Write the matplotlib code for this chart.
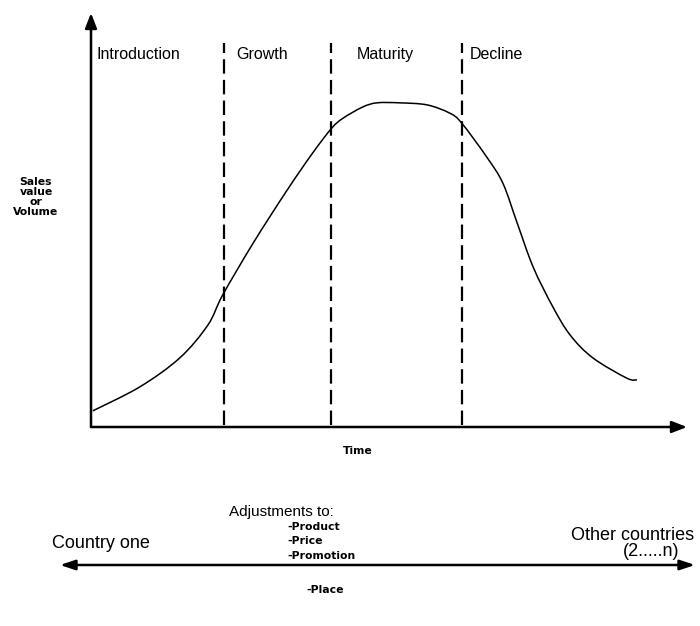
import matplotlib
matplotlib.use("Agg")
import matplotlib.pyplot as plt
from matplotlib.path import Path
from matplotlib.patches import PathPatch, FancyArrowPatch
import numpy as np

# ---- data ----
time = [0.3, 8.2, 14.9, 19.6, 22.1, 27.2, 32.9, 37.2, 40.4, 42.3, 45.6, 48.0,
        51.8, 56.4, 60.2, 62.2, 66.4, 69.1, 71.5, 74.2, 77.5, 80.4, 84.2, 89.9, 91.6]
sales = [3.9, 9.7, 16.7, 24.6, 31.9, 44.4, 57.2, 66.2, 72.2, 74.6, 77.3, 78.3,
         78.3, 77.8, 75.8, 73.4, 65.2, 58.9, 49.3, 38.6, 29.0, 22.2, 16.7, 11.8, 11.4]
stages = ["Introduction", "Growth", "Maturity", "Decline"]
stage_start = [0.0, 22.3, 40.3, 62.2]
adjustments = ["-Product", "-Price", "-Promotion"]

plt.rcParams['font.family'] = ['Liberation Sans', 'DejaVu Sans']

W, H = 700, 626
fig = plt.figure(figsize=(W / 100, H / 100), dpi=100)

def fx(px):
    return px / W

def fy(py):
    return 1 - py / H

# main chart axes (pixel box: x 91..687, y 13..427)
ax = fig.add_axes([fx(91), fy(427), fx(687) - fx(91), fy(13) - fy(427)])
ax.set_xlim(0, 100)
ax.set_ylim(0, 100)
ax.axis('off')

# axes arrows
for end in [(0, 1), (1, 0)]:
    ax.annotate("", xy=end, xytext=(0, 0), xycoords='axes fraction',
                arrowprops=dict(arrowstyle='-|>,head_length=0.9,head_width=0.35',
                                lw=1.8, color='black', shrinkA=0, shrinkB=0))

# smooth curve through the read points (Catmull-Rom drawn as cubic Bezier)
P = np.column_stack([time, sales])
verts = [tuple(P[0])]
codes = [Path.MOVETO]
n = len(P)
for i in range(n - 1):
    p0 = P[i - 1] if i > 0 else P[i]
    p1 = P[i]
    p2 = P[i + 1]
    p3 = P[i + 2] if i + 2 < n else P[i + 1]
    c1 = p1 + (p2 - p0) / 6.0
    c2 = p2 - (p3 - p1) / 6.0
    verts += [tuple(c1), tuple(c2), tuple(p2)]
    codes += [Path.CURVE4] * 3
ax.add_patch(PathPatch(Path(verts, codes), facecolor='none', edgecolor='black', lw=1.1))

# stage dividers
for xs in stage_start[1:]:
    ax.plot([xs, xs], [0.5, 92.8], color='black', lw=1.6, dashes=(6.5, 2.8))

# stage labels
label_offsets = [1.0, 2.0, 4.3, 1.4]
for name, xs, off in zip(stages, stage_start, label_offsets):
    ax.text(xs + off, 89.9, name, fontsize=11.5, ha='left', va='center')

small = dict(family=['DejaVu Sans'], fontweight='bold', fontsize=7.8)

# axis titles
fig.text(fx(36), fy(197), "Sales\nvalue\nor\nVolume", ha='center', va='center',
         linespacing=1.0, **small)
fig.text(fx(358), fy(451), "Time", ha='center', va='center', **small)

# bottom section
fig.text(fx(281), fy(512), "Adjustments to:", fontsize=11, ha='center', va='center')
for i, a in enumerate(adjustments):
    fig.text(fx(287), fy(527 + 14.5 * i), a, ha='left', va='center', **small)
fig.text(fx(52), fy(543), "Country one", fontsize=13, ha='left', va='center')
fig.text(fx(633), fy(535), "Other countries", fontsize=13, ha='center', va='center')
fig.text(fx(651), fy(551), "(2.....n)", fontsize=13, ha='center', va='center')
fig.text(fx(306), fy(590), "-Place", ha='left', va='center', **small)

fig.add_artist(FancyArrowPatch(
    (fx(60), fy(565)), (fx(695), fy(565)), transform=fig.transFigure,
    arrowstyle='<|-|>,head_length=0.9,head_width=0.3', mutation_scale=10,
    lw=1.8, color='black', shrinkA=0, shrinkB=0))

fig.savefig("out.png", dpi=100, facecolor='white')
